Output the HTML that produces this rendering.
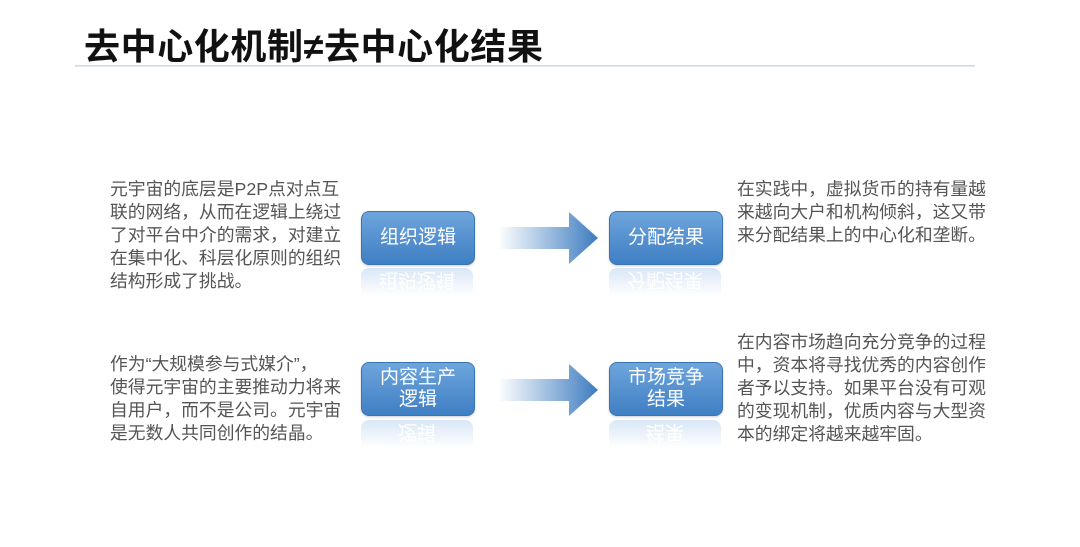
<!DOCTYPE html>
<html><head><meta charset="utf-8"><style>
body{margin:0;width:1080px;height:547px;background:#fff;position:relative;overflow:hidden;font-family:"Liberation Sans","Noto Sans CJK SC",sans-serif}
.t{position:absolute;left:84px;top:18px;font-size:36px;font-weight:bold;color:#111;white-space:nowrap;letter-spacing:.6px}
.line{position:absolute;left:75px;top:65px;width:900px;height:2px;background:linear-gradient(#c8d8e6,#e6eef5)}
.p{position:absolute;font-size:17.8px;line-height:23px;color:#555;white-space:nowrap}
.box{position:absolute;width:112px;height:52px;border-radius:8px;background:linear-gradient(#6ea5dc,#3f7fc4);border:1px solid #3b74b3;color:#fff;font-size:19px;line-height:22px;display:flex;align-items:center;justify-content:center;text-align:center;box-shadow:0 1px 2px rgba(0,0,0,.2)}
.ref{position:absolute;width:112px;height:28px;overflow:hidden;border-radius:8px 8px 0 0;background:linear-gradient(#a9c9ea,rgba(255,255,255,0));opacity:.45;color:#fff;font-size:19px;text-align:center;line-height:22px}
.ref span{display:block;transform:scaleY(-1)}
svg{position:absolute}
</style></head><body>
<div class="t">去中心化机制≠去中心化结果</div>
<div class="line"></div>
<div class="p" style="left:110px;top:178px">元宇宙的底层是P2P点对点互<br>联的网络，从而在逻辑上绕过<br>了对平台中介的需求，对建立<br>在集中化、科层化原则的组织<br>结构形成了挑战。</div>
<div class="p" style="left:110px;top:353px">作为“大规模参与式媒介”，<br>使得元宇宙的主要推动力将来<br>自用户，而不是公司。元宇宙<br>是无数人共同创作的结晶。</div>
<div class="p" style="left:737px;top:178px">在实践中，虚拟货币的持有量越<br>来越向大户和机构倾斜，这又带<br>来分配结果上的中心化和垄断。</div>
<div class="p" style="left:737px;top:331px">在内容市场趋向充分竞争的过程<br>中，资本将寻找优秀的内容创作<br>者予以支持。如果平台没有可观<br>的变现机制，优质内容与大型资<br>本的绑定将越来越牢固。</div>

<div class="box" style="left:361px;top:211px">组织逻辑</div>
<div class="ref" style="left:361px;top:268px"><span>组织逻辑</span></div>
<div class="box" style="left:609px;top:211px">分配结果</div>
<div class="ref" style="left:609px;top:268px"><span>分配结果</span></div>
<div class="box" style="left:361px;top:362px">内容生产<br>逻辑</div>
<div class="ref" style="left:361px;top:420px"><span>逻辑</span></div>
<div class="box" style="left:609px;top:362px">市场竞争<br>结果</div>
<div class="ref" style="left:609px;top:420px"><span>结果</span></div>

<svg width="1080" height="547" style="left:0;top:0">
<defs><linearGradient id="g" x1="0" x2="1"><stop offset="0" stop-color="#3f7fc4" stop-opacity="0"/><stop offset="1" stop-color="#3d7bbf"/></linearGradient></defs>
<polygon points="498,227 569,227 569,212 598,238 569,264 569,249 498,249" fill="url(#g)"/>
<polygon points="498,379 569,379 569,364 598,390 569,416 569,401 498,401" fill="url(#g)"/>
</svg>
</body></html>
